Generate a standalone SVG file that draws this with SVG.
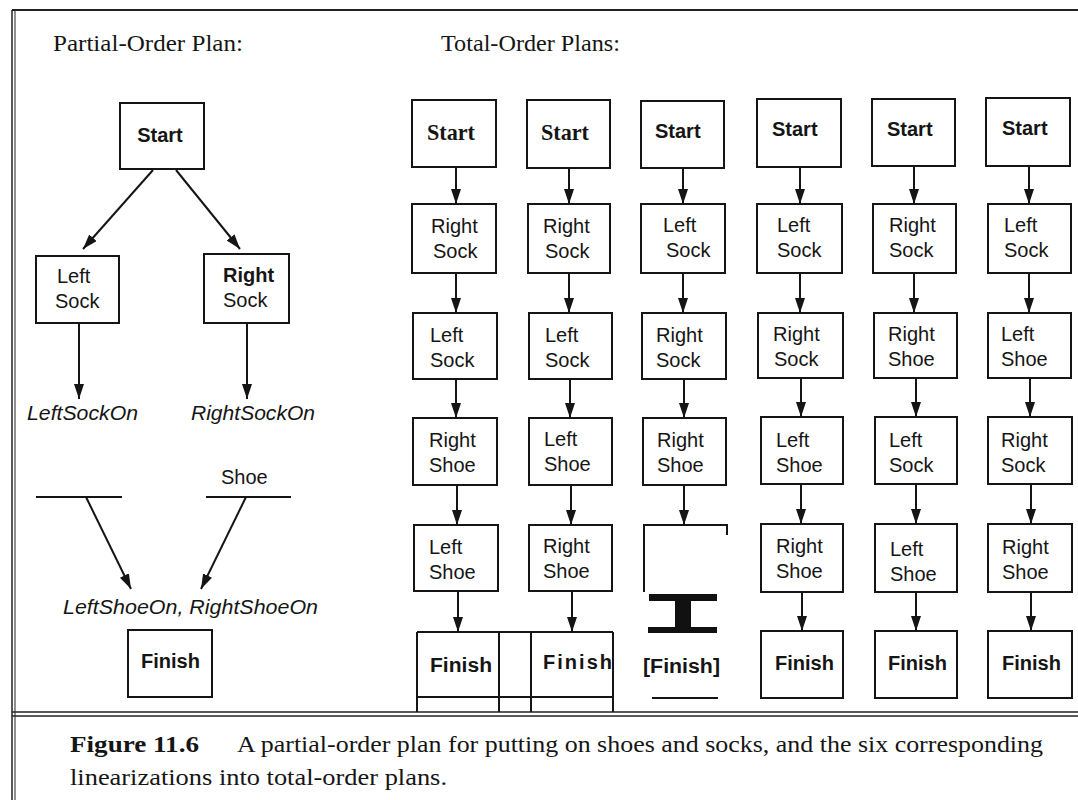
<svg xmlns="http://www.w3.org/2000/svg" width="1078" height="800" viewBox="0 0 1078 800">
<style>
.box{fill:#fff;stroke:#151515;stroke-width:2}
.t{font-family:"Liberation Sans",Arial,Helvetica,sans-serif;font-size:20px;fill:#151515}
.b{font-weight:bold}
.i{font-style:italic}
.s{font-family:"Liberation Serif","Times New Roman",serif;fill:#151515}
.frame{stroke:#222;fill:none}
#connectors line{stroke:#151515;stroke-width:2;marker-end:url(#ah)}
.plain{stroke:#151515;stroke-width:2;fill:none}
</style>
<defs>
<marker id="ah" markerUnits="userSpaceOnUse" markerWidth="16" markerHeight="11" refX="15" refY="5" orient="auto">
<path d="M0,0 L15,5 L0,10 Z" fill="#151515"/>
</marker>
</defs>
<rect width="1078" height="800" fill="#fff"/>
<!-- frame -->
<line class="frame" x1="12" y1="10" x2="1078" y2="10" stroke-width="2"/>
<line class="frame" x1="12" y1="10" x2="12" y2="800" stroke-width="1.5"/>
<line class="frame" x1="15" y1="10" x2="15" y2="800" stroke-width="1"/>
<line class="frame" x1="12" y1="712" x2="1078" y2="712" stroke-width="1.5"/>
<line class="frame" x1="12" y1="716" x2="1078" y2="716" stroke-width="1.5"/>

<text class="s" x="53" y="51" font-size="24" textLength="190" lengthAdjust="spacingAndGlyphs">Partial-Order Plan:</text>
<text class="s" x="441" y="51" font-size="24" textLength="179" lengthAdjust="spacingAndGlyphs">Total-Order Plans:</text>

<!-- partial-order plan -->
<g id="p-start"><rect class="box" x="120" y="103" width="84" height="66"/><text class="t b" x="160" y="142" text-anchor="middle">Start</text></g>
<g id="p-leftsock"><rect class="box" x="36" y="256" width="83" height="67"/><text class="t" x="57" y="283">Left</text><text class="t" x="55" y="308">Sock</text></g>
<g id="p-rightsock"><rect class="box" x="204" y="254" width="85" height="69"/><text class="t b" x="223" y="282">Right</text><text class="t" x="223" y="307">Sock</text></g>
<g id="p-leftsockon"><text class="t i" x="27" y="420" font-size="21" textLength="111" lengthAdjust="spacingAndGlyphs">LeftSockOn</text></g>
<g id="p-rightsockon"><text class="t i" x="191" y="420" font-size="21" textLength="124" lengthAdjust="spacingAndGlyphs">RightSockOn</text></g>
<g id="p-leftshoe"><line class="plain" x1="36" y1="497" x2="122" y2="497"/></g>
<g id="p-rightshoe"><text class="t" x="221" y="484">Shoe</text><line class="plain" x1="206" y1="497" x2="291" y2="497"/></g>
<g id="p-shoeon"><text class="t i" x="63" y="614" font-size="21" textLength="255" lengthAdjust="spacingAndGlyphs">LeftShoeOn, RightShoeOn</text></g>
<g id="p-finish"><rect class="box" x="128" y="630" width="84" height="67"/><text class="t b" x="141" y="668">Finish</text></g>

<!-- column 1 -->
<g id="c1-start"><rect class="box" x="412" y="100" width="84" height="67"/><text class="s b" x="427" y="140" font-size="24" textLength="48" lengthAdjust="spacingAndGlyphs">Start</text></g>
<g id="c1-r2"><rect class="box" x="412" y="204" width="84" height="69"/><text class="t" x="431" y="233">Right</text><text class="t" x="433" y="258">Sock</text></g>
<g id="c1-r3"><rect class="box" x="413" y="313" width="84" height="66"/><text class="t" x="430" y="342">Left</text><text class="t" x="430" y="367">Sock</text></g>
<g id="c1-r4"><rect class="box" x="413" y="418" width="84" height="67"/><text class="t" x="429" y="447">Right</text><text class="t" x="429" y="472">Shoe</text></g>
<g id="c1-r5"><rect class="box" x="414" y="525" width="84" height="66"/><text class="t" x="429" y="554">Left</text><text class="t" x="429" y="579">Shoe</text></g>
<!-- column 2 -->
<g id="c2-start"><rect class="box" x="527" y="100" width="83" height="68"/><text class="s b" x="541" y="140" font-size="24" textLength="48" lengthAdjust="spacingAndGlyphs">Start</text></g>
<g id="c2-r2"><rect class="box" x="528" y="204" width="82" height="69"/><text class="t" x="543" y="233">Right</text><text class="t" x="545" y="258">Sock</text></g>
<g id="c2-r3"><rect class="box" x="529" y="313" width="83" height="66"/><text class="t" x="545" y="342">Left</text><text class="t" x="545" y="367">Sock</text></g>
<g id="c2-r4"><rect class="box" x="529" y="418" width="83" height="67"/><text class="t" x="544" y="446">Left</text><text class="t" x="544" y="471">Shoe</text></g>
<g id="c2-r5"><rect class="box" x="529" y="525" width="83" height="66"/><text class="t" x="543" y="553">Right</text><text class="t" x="543" y="578">Shoe</text></g>
<!-- finish table for cols 1-2 -->
<g id="c12-finish">
<path class="plain" d="M417,632 L613,632 M417,697 L613,697 M417,632 L417,712 M499,632 L499,712 M531,632 L531,712 M613,632 L613,712"/>
<text class="t b" x="430" y="672" textLength="62" lengthAdjust="spacingAndGlyphs">Finish</text>
<text class="t b" x="543" y="669" textLength="69" lengthAdjust="spacing">Finish</text>
</g>
<!-- column 3 -->
<g id="c3-start"><rect class="box" x="641" y="101" width="83" height="67"/><text class="t b" x="655" y="138">Start</text></g>
<g id="c3-r2"><rect class="box" x="641" y="204" width="84" height="69"/><text class="t" x="663" y="232">Left</text><text class="t" x="666" y="257">Sock</text></g>
<g id="c3-r3"><rect class="box" x="642" y="313" width="84" height="66"/><text class="t" x="656" y="342">Right</text><text class="t" x="656" y="367">Sock</text></g>
<g id="c3-r4"><rect class="box" x="643" y="418" width="83" height="67"/><text class="t" x="657" y="447">Right</text><text class="t" x="657" y="472">Shoe</text></g>
<g id="c3-r5"><path class="plain" d="M644,592 L644,525 L727,525 L727,535"/></g>
<g id="c3-finish">
<path d="M649,594 H717 V601 H691 V627 H717 V633 H648 V627 H675 V601 H649 Z" fill="#111"/>
<text class="t b" x="643" y="673" textLength="77" lengthAdjust="spacingAndGlyphs">[Finish]</text>
<line class="plain" x1="652" y1="698" x2="718" y2="698" stroke-width="3"/>
</g>
<!-- column 4 -->
<g id="c4-start"><rect class="box" x="757" y="99" width="84" height="68"/><text class="t b" x="772" y="136">Start</text></g>
<g id="c4-r2"><rect class="box" x="757" y="204" width="85" height="69"/><text class="t" x="777" y="232">Left</text><text class="t" x="777" y="257">Sock</text></g>
<g id="c4-r3"><rect class="box" x="758" y="313" width="85" height="65"/><text class="t" x="773" y="341">Right</text><text class="t" x="774" y="366">Sock</text></g>
<g id="c4-r4"><rect class="box" x="761" y="417" width="82" height="67"/><text class="t" x="776" y="447">Left</text><text class="t" x="776" y="472">Shoe</text></g>
<g id="c4-r5"><rect class="box" x="761" y="524" width="82" height="68"/><text class="t" x="776" y="553">Right</text><text class="t" x="776" y="578">Shoe</text></g>
<g id="c4-finish"><rect class="box" x="761" y="631" width="82" height="67"/><text class="t b" x="775" y="670">Finish</text></g>
<!-- column 5 -->
<g id="c5-start"><rect class="box" x="872" y="99" width="83" height="67"/><text class="t b" x="887" y="136">Start</text></g>
<g id="c5-r2"><rect class="box" x="873" y="204" width="83" height="69"/><text class="t" x="889" y="232">Right</text><text class="t" x="889" y="257">Sock</text></g>
<g id="c5-r3"><rect class="box" x="874" y="313" width="83" height="65"/><text class="t" x="888" y="341">Right</text><text class="t" x="888" y="366">Shoe</text></g>
<g id="c5-r4"><rect class="box" x="875" y="417" width="82" height="67"/><text class="t" x="889" y="447">Left</text><text class="t" x="889" y="472">Sock</text></g>
<g id="c5-r5"><rect class="box" x="875" y="524" width="82" height="68"/><text class="t" x="890" y="556">Left</text><text class="t" x="890" y="581">Shoe</text></g>
<g id="c5-finish"><rect class="box" x="875" y="631" width="82" height="67"/><text class="t b" x="888" y="670">Finish</text></g>
<!-- column 6 -->
<g id="c6-start"><rect class="box" x="986" y="98" width="84" height="68"/><text class="t b" x="1002" y="135">Start</text></g>
<g id="c6-r2"><rect class="box" x="988" y="204" width="83" height="69"/><text class="t" x="1004" y="232">Left</text><text class="t" x="1004" y="257">Sock</text></g>
<g id="c6-r3"><rect class="box" x="988" y="313" width="83" height="65"/><text class="t" x="1001" y="341">Left</text><text class="t" x="1001" y="366">Shoe</text></g>
<g id="c6-r4"><rect class="box" x="988" y="417" width="84" height="67"/><text class="t" x="1001" y="447">Right</text><text class="t" x="1001" y="472">Sock</text></g>
<g id="c6-r5"><rect class="box" x="988" y="524" width="84" height="68"/><text class="t" x="1002" y="554">Right</text><text class="t" x="1002" y="579">Shoe</text></g>
<g id="c6-finish"><rect class="box" x="988" y="631" width="84" height="67"/><text class="t b" x="1002" y="670">Finish</text></g>

<g id="connectors">
<line x1="153" y1="170" x2="83" y2="249"/>
<line x1="176" y1="170" x2="240" y2="249"/>
<line x1="79" y1="324" x2="79" y2="399"/>
<line x1="247" y1="324" x2="247" y2="399"/>
<line x1="86" y1="497" x2="131" y2="589"/>
<line x1="246" y1="497" x2="201" y2="589"/>

<line x1="456" y1="167" x2="456" y2="204"/>
<line x1="456" y1="273" x2="456" y2="313"/>
<line x1="456" y1="379" x2="456" y2="418"/>
<line x1="457" y1="485" x2="457" y2="525"/>
<line x1="458" y1="591" x2="458" y2="632"/>

<line x1="569" y1="168" x2="569" y2="204"/>
<line x1="569" y1="273" x2="569" y2="313"/>
<line x1="570" y1="379" x2="570" y2="418"/>
<line x1="571" y1="485" x2="571" y2="525"/>
<line x1="572" y1="591" x2="572" y2="632"/>

<line x1="683" y1="168" x2="683" y2="204"/>
<line x1="683" y1="273" x2="683" y2="313"/>
<line x1="684" y1="379" x2="684" y2="418"/>
<line x1="684" y1="485" x2="684" y2="525"/>

<line x1="800" y1="167" x2="800" y2="204"/>
<line x1="800" y1="273" x2="800" y2="313"/>
<line x1="801" y1="378" x2="801" y2="417"/>
<line x1="801" y1="484" x2="801" y2="524"/>
<line x1="802" y1="592" x2="802" y2="631"/>

<line x1="914" y1="166" x2="914" y2="204"/>
<line x1="914" y1="273" x2="914" y2="313"/>
<line x1="916" y1="378" x2="916" y2="417"/>
<line x1="916" y1="484" x2="916" y2="524"/>
<line x1="916" y1="592" x2="916" y2="631"/>

<line x1="1029" y1="166" x2="1029" y2="204"/>
<line x1="1029" y1="273" x2="1029" y2="313"/>
<line x1="1030" y1="378" x2="1030" y2="417"/>
<line x1="1031" y1="484" x2="1031" y2="524"/>
<line x1="1031" y1="592" x2="1031" y2="631"/>
</g>

<g id="caption">
<text class="s b" x="70" y="752" font-size="23" textLength="129" lengthAdjust="spacingAndGlyphs">Figure 11.6</text>
<text class="s" x="237" y="752" font-size="23" textLength="806" lengthAdjust="spacingAndGlyphs">A partial-order plan for putting on shoes and socks, and the six corresponding</text>
<text class="s" x="70" y="785" font-size="23" textLength="377" lengthAdjust="spacingAndGlyphs">linearizations into total-order plans.</text>
</g>
</svg>
